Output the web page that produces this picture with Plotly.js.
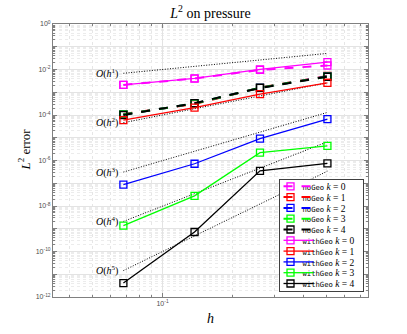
<!DOCTYPE html>
<html>
<head>
<meta charset="utf-8">
<script src="https://cdn.plot.ly/plotly-3.0.1.min.js"></script>
<style>
  html, body { margin: 0; padding: 0; background: #fff; }
  #chart { width: 407px; height: 334px; }
</style>
</head>
<body>
<div id="chart"></div>
<script>
// mesh sizes
var h = [0.068, 0.137, 0.261, 0.507];

// L2 error on pressure, without geometric correction
var noGeo0 = [2.1e-3, 4.0e-3, 9.6e-3, 1.5e-2];
var noGeo1 = [1.1e-4, 3.0e-4, 1.6e-3, 5.2e-3];
var noGeo2 = [1.05e-4, 3.2e-4, 1.58e-3, 5.0e-3];
var noGeo3 = [1.05e-4, 3.2e-4, 1.57e-3, 4.9e-3];
var noGeo4 = [1.0e-4, 3.3e-4, 1.55e-3, 4.8e-3];

// with geometric correction
var withGeo0 = [2.1e-3, 4.1e-3, 1.02e-2, 2.1e-2];
var withGeo1 = [6.0e-5, 2.1e-4, 8.3e-4, 2.6e-3];
var withGeo2 = [8.7e-8, 7.2e-7, 9.1e-6, 6.6e-5];
var withGeo3 = [1.36e-9, 2.8e-8, 2.2e-6, 4.4e-6];
var withGeo4 = [4.1e-12, 7.2e-10, 3.5e-7, 7.5e-7];

// slope guides, value at first and last h
var refH = [0.068, 0.507];
var ref1 = [6.8e-3, 5.1e-2];
var ref2 = [4.6e-5, 2.6e-3];
var ref3 = [3.1e-7, 1.3e-4];
var ref4 = [2.1e-9, 6.6e-6];
var ref5 = [1.45e-11, 3.4e-7];
var refLabels = ["1", "2", "3", "4", "5"];

var colors = ["#ff00ff", "#ff0000", "#0000ff", "#00ff00", "#000000"];
var noGeo = [noGeo0, noGeo1, noGeo2, noGeo3, noGeo4];
var withGeo = [withGeo0, withGeo1, withGeo2, withGeo3, withGeo4];
var refs = [ref1, ref2, ref3, ref4, ref5];

var serif = "Liberation Serif, Times New Roman, serif";
var monoSpan = "<span style='font-family:DejaVu Sans Mono;font-size:7.2px'>";

var data = [];

// dotted guide lines first so they sit under the curves
for (let i = 0; i < refs.length; i++){
	data.push({type: "scatter", mode: "lines", x: refH, y: refs[i],
		line: {color: "#000000", width: 1, dash: "1px,1.6px"},
		showlegend: false, hoverinfo: "skip"
	});
};

for (let k = 0; k < 5; k++){
	data.push({type: "scatter", mode: "lines+markers", x: h, y: noGeo[k],
		name: monoSpan + "noGeo</span> <i>k</i> = " + k,
		line: {color: colors[k], width: 2, dash: "dash"},
		marker: {symbol: "square-open", size: 7, color: colors[k], line: {width: 1.3}}
	});
};

for (let k = 0; k < 5; k++){
	data.push({type: "scatter", mode: "lines+markers", x: h, y: withGeo[k],
		name: monoSpan + "withGeo</span> <i>k</i> = " + k,
		line: {color: colors[k], width: 1.3},
		marker: {symbol: "square-open", size: 7, color: colors[k], line: {width: 1.3}}
	});
};

// O(h^k) labels at the start of each guide
var annotations = [];
for (let i = 0; i < refs.length; i++){
	annotations.push({
		x: Math.log10(refH[0]), y: Math.log10(refs[i][0]),
		xref: "x", yref: "y",
		text: "<i>O</i>(<i>h</i><sup>" + refLabels[i] + "</sup>)",
		showarrow: false, xanchor: "right", yanchor: "middle", xshift: -3,
		font: {family: serif, size: 10, color: "#000000"}
	});
};
// y axis label, a bit above the middle like the original
annotations.push({
	x: -0.092, y: 0.54, xref: "paper", yref: "paper",
	text: "<i>L</i><sup>2</sup> error", textangle: -90, showarrow: false,
	xanchor: "center", yanchor: "middle",
	font: {family: serif, size: 13, color: "#000000"}
});

var yTicks = [], yText = [];
for (let e = 0; e >= -12; e--){
	yTicks.push(Math.pow(10, e));
	yText.push(e % 2 == 0 ? "10<sup>" + e + "</sup>" : "");
};

var layout = {
	width: 407, height: 334,
	margin: {l: 53, r: 39, t: 24, b: 37},
	paper_bgcolor: "#ffffff", plot_bgcolor: "#ffffff",
	title: {text: "<i>L</i><sup>2</sup> on pressure", xref: "paper", x: 0.5,
		y: 0.96, yanchor: "middle",
		font: {family: serif, size: 14, color: "#000000"}},
	font: {family: "Liberation Sans, Arial, sans-serif", size: 7, color: "#4d4d4d"},
	xaxis: {
		type: "log", range: [Math.log10(0.034), Math.log10(0.756)],
		tickmode: "array", tickvals: [0.1], ticktext: ["10<sup>-1</sup>"],
		ticks: "inside", ticklen: 4, tickcolor: "#808080",
		showgrid: true, gridcolor: "#e3e3e3", gridwidth: 1,
		minor: {tickmode: "array", tickvals: [0.04, 0.05, 0.06, 0.07, 0.08, 0.09, 0.2, 0.3, 0.4, 0.5, 0.6, 0.7],
			ticks: "inside", ticklen: 2, tickcolor: "#808080",
			showgrid: true, gridcolor: "#e6e6e6", griddash: "dot"},
		showline: true, linecolor: "#808080", linewidth: 1, mirror: "ticks",
		zeroline: false,
		title: {text: "<i>h</i>", font: {family: serif, size: 14, color: "#000000"}, standoff: 6}
	},
	yaxis: {
		type: "log", range: [-12, 0],
		tickmode: "array", tickvals: yTicks, ticktext: yText,
		ticks: "inside", ticklen: 4, tickcolor: "#808080",
		showgrid: true, gridcolor: "#e3e3e3", gridwidth: 1,
		minor: {dtick: "D1", ticks: "inside", ticklen: 2, tickcolor: "#808080",
			showgrid: true, gridcolor: "#ececec", griddash: "dot"},
		showline: true, linecolor: "#808080", linewidth: 1, mirror: "ticks",
		zeroline: false
	},
	legend: {
		x: 0.98, xanchor: "right", y: 0.023, yanchor: "bottom",
		bgcolor: "#ffffff", bordercolor: "#404040", borderwidth: 1,
		font: {family: serif, size: 9.5, color: "#000000"},
		tracegroupgap: 0, itemwidth: 30
	},
	annotations: annotations,
	showlegend: true
};

// plotly keeps legend rows at least 19px tall, the original packs them
// at about 11px, so the rows get pulled together after drawing
squeezeLegend = function(gd){
	var leg = gd.querySelector("g.legend");
	if (!leg) return;
	var step = 10.8, top = 179.3, left = 278.5, w = 84;
	var items = leg.querySelectorAll("g.traces");
	for (let i = 0; i < items.length; i++){
		items[i].setAttribute("transform", "translate(0," + (7 + i*step) + ")");
		var lines = items[i].querySelectorAll("path.legendlines");
		for (let j = 0; j < lines.length; j++){
			lines[j].setAttribute("d", "M1.5,0h21");
			// short dashes for the noGeo samples, like "- [] -"
			if (i < 5) lines[j].style.strokeDasharray = "4px,2px";
		}
		var pts = items[i].querySelectorAll("path.scatterpts");
		for (let j = 0; j < pts.length; j++) pts[j].setAttribute("transform", "translate(12,0)");
		var txt = items[i].querySelector("text.legendtext");
		if (txt){
			var bb = txt.getBBox();
			txt.setAttribute("transform", "translate(" + (24 - bb.x) + ",0)");
		}
	}
	var bg = leg.querySelector("rect.bg");
	if (bg){
		bg.setAttribute("width", w);
		bg.setAttribute("height", items.length*step + 3.5);
	}
	var sb = leg.querySelector("g.scrollbox");
	if (sb){
		sb.removeAttribute("clip-path");
		sb.setAttribute("transform", "translate(0,0)");
	}
	leg.setAttribute("transform", "translate(" + left + "," + top + ")");
};

Plotly.newPlot("chart", data, layout, {displayModeBar: false, staticPlot: true}).then(squeezeLegend);
</script>
</body>
</html>
